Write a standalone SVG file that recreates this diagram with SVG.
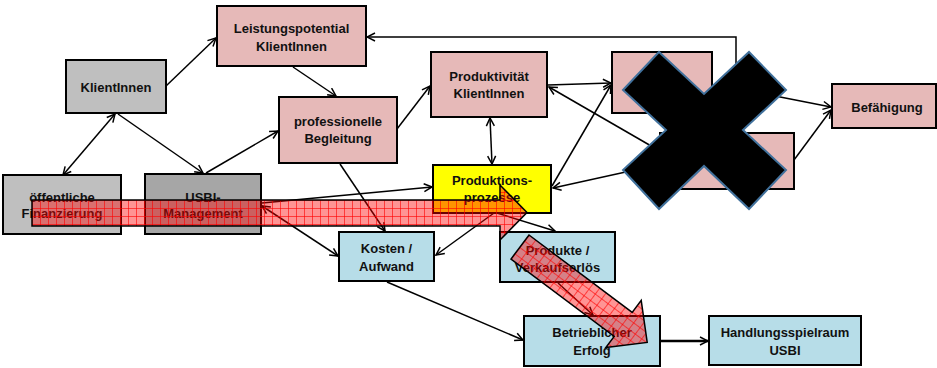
<svg xmlns="http://www.w3.org/2000/svg" width="937" height="368" viewBox="0 0 937 368">
<style>
.n{stroke:#000;stroke-width:2}
.pink{fill:#e6b9b8}
.gray{fill:#bfbfbf}
.dgray{fill:#a6a6a6}
.blue{fill:#b7dde8}
.yel{fill:#ffff00}
text{font-family:"Liberation Sans",Arial,sans-serif;font-weight:bold;font-size:13px;text-anchor:middle;fill:#111}
.c{stroke:#000;stroke-width:1.5;fill:none;marker-end:url(#ah)}
.d{marker-start:url(#ah)}
.bigarrow{fill:url(#hatch);stroke:#000;stroke-width:1.5}
</style>
<defs>
<marker id="ah" viewBox="0 0 10 10" refX="9" refY="5" markerWidth="10" markerHeight="10" markerUnits="userSpaceOnUse" orient="auto-start-reverse">
<path d="M1,1 L9,5 L1,9" fill="none" stroke="#000" stroke-width="1.5"/>
</marker>
<pattern id="hatch" width="8" height="8" patternUnits="userSpaceOnUse">
<rect width="8" height="8" fill="#ff0000" fill-opacity="0.42"/>
<path d="M0,0.5 H8 M0.5,0 V8" stroke="#ff0000" stroke-opacity="0.6" stroke-width="1"/>
</pattern>
</defs>

<g id="connectors">
<line class="c" x1="166" y1="86" x2="216" y2="38"/>
<line class="c d" x1="115" y1="114" x2="63" y2="175"/>
<line class="c" x1="118" y1="114" x2="203" y2="173"/>
<line class="c" x1="206" y1="173" x2="278" y2="131"/>
<line class="c" x1="293" y1="67" x2="336" y2="96"/>
<line class="c" x1="397" y1="129" x2="430" y2="86"/>
<polyline class="c" points="736,70 736,37 367,37"/>
<line class="c" x1="548" y1="85" x2="611" y2="83"/>
<line class="c d" x1="490" y1="118" x2="492" y2="164"/>
<line class="c" x1="552" y1="186" x2="611" y2="85"/>
<line class="c" x1="665" y1="154" x2="549" y2="87"/>
<line class="c" x1="662" y1="164" x2="553" y2="188"/>
<line class="c" x1="770" y1="95" x2="831" y2="107"/>
<line class="c" x1="794" y1="160" x2="831" y2="110"/>
<line class="c" x1="262" y1="203" x2="432" y2="187"/>
<line class="c d" x1="262" y1="206" x2="338" y2="256"/>
<line class="c" x1="340" y1="164" x2="385" y2="231"/>
<line class="c" x1="494" y1="213" x2="436" y2="255"/>
<line class="c" x1="497" y1="213" x2="555" y2="231"/>
<line class="c" x1="387" y1="282" x2="523" y2="340"/>
<line class="c" x1="558" y1="283" x2="593" y2="315"/>
<line class="c" x1="661" y1="341" x2="708" y2="341" style="stroke-width:2.5"/>
</g>

<g id="n-leistung"><rect class="n pink" x="217" y="6" width="149" height="60"/><text x="291.5" y="32.5">Leistungspotential</text><text x="291.5" y="50.5">KlientInnen</text></g>
<g id="n-klient"><rect class="n gray" x="66" y="60" width="100" height="53"/><text x="116" y="91.5">KlientInnen</text></g>
<g id="n-begleitung"><rect class="n pink" x="279" y="97" width="118" height="66"/><text x="338" y="125.5">professionelle</text><text x="338" y="142.5">Begleitung</text></g>
<g id="n-finanz"><rect class="n gray" x="3" y="175" width="118" height="59"/><text x="62" y="201.5">öffentliche</text><text x="62" y="218">Finanzierung</text></g>
<g id="n-usbi"><rect class="n dgray" x="145" y="174" width="116" height="60"/><text x="203" y="201.5">USBI-</text><text x="203" y="218">Management</text></g>
<g id="n-produktivitaet"><rect class="n pink" x="431" y="52" width="116" height="65"/><text x="489" y="80.5">Produktivität</text><text x="489" y="97.5">KlientInnen</text></g>
<g id="n-prozesse"><rect class="n yel" x="433" y="165" width="118" height="48"/><text x="492" y="184.5">Produktions-</text><text x="492" y="201.5">prozesse</text></g>
<g id="n-hidden1"><rect class="n pink" x="612" y="52" width="100" height="61"/></g>
<g id="n-hidden2"><rect class="n pink" x="660" y="133" width="134" height="56"/></g>
<g id="n-befaehigung"><rect class="n pink" x="832" y="84" width="104" height="44"/><text x="887" y="111.5">Befähigung</text></g>
<g id="n-kosten"><rect class="n blue" x="339" y="232" width="95" height="49"/><text x="386.5" y="252.5">Kosten /</text><text x="386.5" y="270.5">Aufwand</text></g>
<g id="n-produkte"><rect class="n blue" x="500" y="232" width="115" height="50"/><text x="557.5" y="254.5">Produkte /</text><text x="557.5" y="271.5">Verkaufserlös</text></g>
<g id="n-erfolg"><rect class="n blue" x="524" y="316" width="136" height="50"/><text x="592" y="336.5">Betrieblicher</text><text x="592" y="354.5">Erfolg</text></g>
<g id="n-handlung"><rect class="n blue" x="709" y="316" width="152" height="49"/><text x="785" y="336.5">Handlungsspielraum</text><text x="785" y="354.5">USBI</text></g>

<g id="overlay">
<polygon class="bigarrow" points="32,200 500,200 500,185 527,212.5 500,240 500,226 32,226"/>
<g transform="translate(520,247) rotate(36.87)">
<polygon class="bigarrow" points="0,-15 129,-15 129,-30 159,0 129,29 129,15 0,15"/>
</g>
<polygon points="623,90 659,52 704,94 749,52 786,90 743,130 786,170 749,209 704,166 659,209 623,170 666,130" fill="#000" stroke="#41719c" stroke-width="2"/>
</g>
</svg>
